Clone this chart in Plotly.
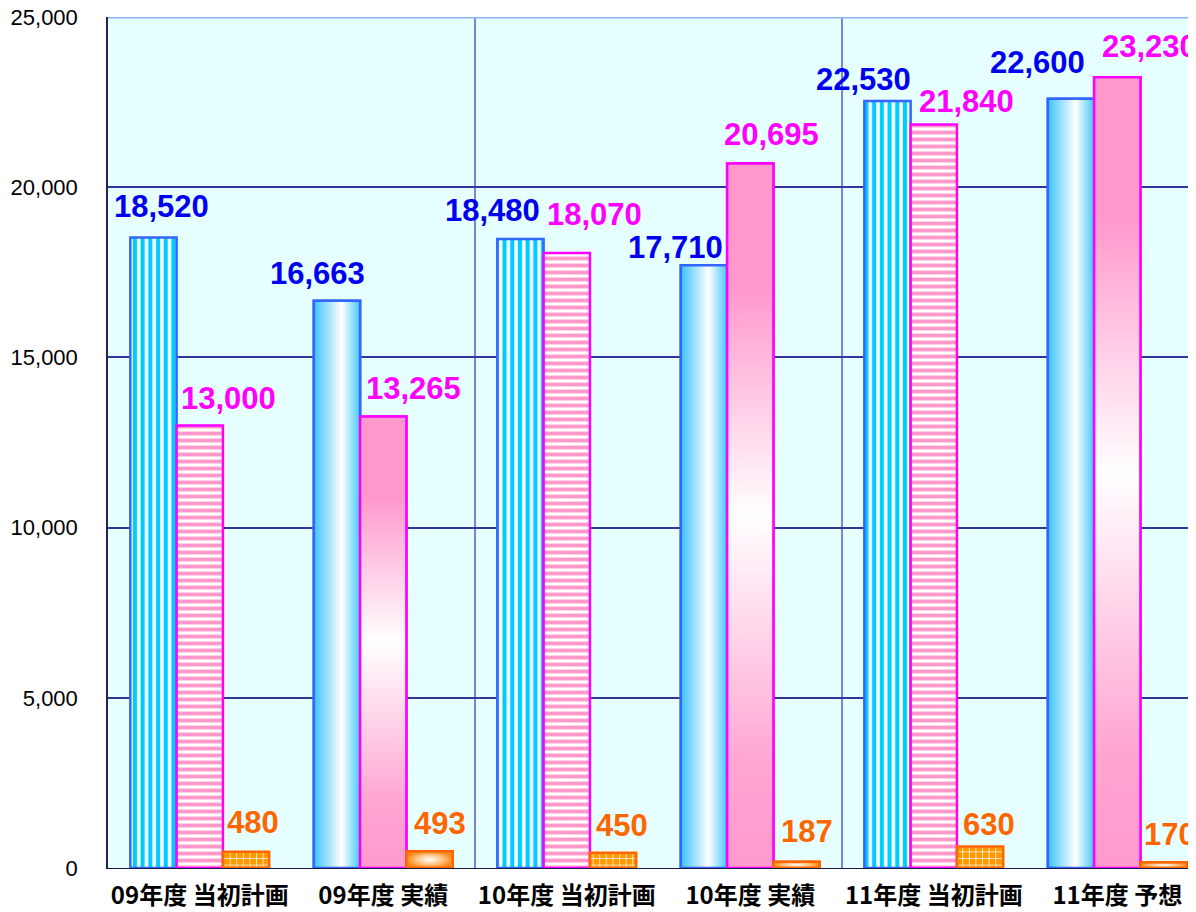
import plotly.graph_objects as go

categories = ["09年度 当初計画", "09年度 実績", "10年度 当初計画", "10年度 実績", "11年度 当初計画", "11年度 予想"]
is_plan = [True, False, True, False, True, False]

blue_values = [18520, 16663, 18480, 17710, 22530, 22600]
pink_values = [13000, 13265, 18070, 20695, 21840, 23230]
orange_values = [480, 493, 450, 187, 630, 170]

# label nudges in px (x shift from bar centre, height of label centre above bar top)
blue_label_dx = [8, -19, -28, -28, -24, -33]
blue_label_dy = [31, 27, 28, 18, 22, 36]
pink_label_dx = [29, 30, 28, 21, 33, 32]
pink_label_dy = [27, 28, 38, 29, 23, 31]
orange_label_dx = [7, 10, 9, 10, 9, 6]
orange_label_dy = [29, 28, 27, 30, 22, 28]

bar_w = 0.2523
label_font = "Liberation Sans, Arial, sans-serif"

series = [
    dict(values=blue_values, dx=blue_label_dx, dy=blue_label_dy, text="#0000F0",
         line="#3366FF", shape="|", fg="#00CCFF", bg="#FFFFFF", size=7.7, solidity=0.55,
         grad=dict(type="horizontal", colorscale=[[0, "#3CC2FA"], [0.6, "#FFFFFF"], [1, "#45C8FA"]])),
    dict(values=pink_values, dx=pink_label_dx, dy=pink_label_dy, text="#FF00FF",
         line="#FF00FF", shape="-", fg="#FF99CC", bg="#FFFFFF", size=7, solidity=0.55,
         grad=dict(type="vertical", colorscale=[[0, "#FF99CC"], [0.15, "#FFA6D2"], [0.5, "#FFFFFF"],
                                                 [0.82, "#FF99CC"], [1, "#FF99CC"]])),
    dict(values=orange_values, dx=orange_label_dx, dy=orange_label_dy, text="#FF6600",
         line="#FF6600", shape="+", fg="#FFFFFF", bg="#FF9900", size=6.6, solidity=0.2,
         grad=dict(type="radial", colorscale=[[0, "#FFFFFF"], [0.55, "#FFC58A"], [1, "#FF8A1A"]])),
]

fig = go.Figure()
x_idx = list(range(len(categories)))
annotations = []

for k, s in enumerate(series):
    offset = -1.5 * bar_w + k * bar_w
    fig.add_trace(go.Bar(
        x=x_idx, y=s["values"], width=bar_w, offset=offset,
        marker=dict(
            color=s["bg"],
            line=dict(color=s["line"], width=2.5),
            pattern=dict(shape=[s["shape"] if p else "" for p in is_plan],
                         fgcolor=s["fg"], bgcolor=s["bg"], size=s["size"],
                         solidity=s["solidity"], fillmode="replace"),
        ),
        showlegend=False, hoverinfo="skip",
    ))
    # gradient fill for actual / forecast bars
    for i, v in enumerate(s["values"]):
        x0 = i + offset
        x1 = x0 + bar_w
        if not is_plan[i]:
            fig.add_trace(go.Scatter(
                x=[x0, x0, x1, x1, x0], y=[0, v, v, 0, 0],
                mode="lines", fill="toself", fillgradient=s["grad"],
                line=dict(color=s["line"], width=2.5),
                showlegend=False, hoverinfo="skip",
            ))
        annotations.append(dict(
            x=(x0 + x1) / 2, y=v, xref="x", yref="y",
            text=f"{v:,}", showarrow=False, yanchor="middle",
            xshift=s["dx"][i], yshift=s["dy"][i],
            font=dict(family=label_font, size=31, color=s["text"], weight="bold"),
        ))

# separators between fiscal years
shapes = []
for b in (1.5, 3.5):
    shapes.append(dict(type="line", xref="x", yref="paper", x0=b, x1=b, y0=0, y1=1,
                       line=dict(color="#7B83D6", width=2), layer="between"))
shapes.append(dict(type="line", xref="paper", yref="y", x0=0, x1=1, y0=25000, y1=25000,
                   line=dict(color="#8CB4F5", width=3)))

# page body adds an 8px margin, so the figure is sized to fit inside it
fig.update_layout(
    width=1188, height=904,
    margin=dict(l=100, r=0, t=9, b=44),
    paper_bgcolor="white",
    plot_bgcolor="#E6FFFF",
    barmode="overlay",
    annotations=annotations,
    shapes=shapes,
    xaxis=dict(
        tickvals=x_idx, ticktext=categories, range=[-0.5, 5.429], automargin=False,
        showgrid=False, zeroline=False, showline=True, linecolor="#1A1A4A", linewidth=1,
        ticks="", ticklabelstandoff=6, ticklabeloverflow="allow",
        tickfont=dict(family="Noto Sans CJK JP", size=24, color="black", weight="bold"),
    ),
    yaxis=dict(
        range=[0, 25000], tickvals=[0, 5000, 10000, 15000, 20000, 25000], tickformat=",",
        automargin=False,
        showgrid=True, gridcolor="#333399", gridwidth=2, zeroline=False,
        showline=True, linecolor="#222255", linewidth=1.5,
        ticks="", ticklabelstandoff=24, ticklabeloverflow="allow",
        tickfont=dict(family="Liberation Sans, Arial", size=22, color="black"),
    ),
)

fig.write_html("out.html")
